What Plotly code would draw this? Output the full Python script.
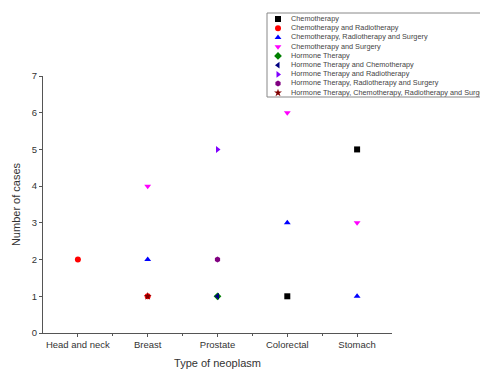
import plotly.graph_objects as go

categories = ["Head and neck", "Breast", "Prostate", "Colorectal", "Stomach"]

series_names = [
    "Chemotherapy",
    "Chemotherapy and Radiotherapy",
    "Chemotherapy, Radiotherapy and Surgery",
    "Chemotherapy and Surgery",
    "Hormone Therapy",
    "Hormone Therapy and Chemotherapy",
    "Hormone Therapy and Radiotherapy",
    "Hormone Therapy, Radiotherapy and Surgery",
    "Hormone Therapy, Chemotherapy, Radiotherapy and Surgery",
]

# (category, number of cases) for each series
chemo_x = ["Colorectal", "Stomach"]
chemo_y = [1, 5]
chemo_radio_x = ["Head and neck", "Breast"]
chemo_radio_y = [2, 1]
chemo_radio_surg_x = ["Breast", "Colorectal", "Stomach"]
chemo_radio_surg_y = [2, 3, 1]
chemo_surg_x = ["Breast", "Colorectal", "Stomach"]
chemo_surg_y = [4, 6, 3]
hormone_x = ["Prostate"]
hormone_y = [1]
hormone_chemo_x = ["Prostate"]
hormone_chemo_y = [1]
hormone_radio_x = ["Prostate"]
hormone_radio_y = [5]
hormone_radio_surg_x = ["Prostate"]
hormone_radio_surg_y = [2]
hormone_all_x = ["Breast"]
hormone_all_y = [1]

y_ticks = [0, 1, 2, 3, 4, 5, 6, 7]

series_x = [chemo_x, chemo_radio_x, chemo_radio_surg_x, chemo_surg_x, hormone_x,
            hormone_chemo_x, hormone_radio_x, hormone_radio_surg_x, hormone_all_x]
series_y = [chemo_y, chemo_radio_y, chemo_radio_surg_y, chemo_surg_y, hormone_y,
            hormone_chemo_y, hormone_radio_y, hormone_radio_surg_y, hormone_all_y]

symbols = ["square", "circle", "triangle-up", "triangle-down", "diamond",
           "triangle-left", "triangle-right", "hexagon", "star"]
colors = ["#000000", "#FF0000", "#0000FF", "#FF00FF", "#008000",
          "#000080", "#8000FF", "#800080", "#800000"]

fig = go.Figure()

for i, name in enumerate(series_names):
    xs = [categories.index(c) for c in series_x[i]]
    fig.add_trace(go.Scatter(
        x=xs, y=series_y[i], mode="markers", name=name, showlegend=False,
        marker=dict(symbol=symbols[i], color=colors[i], size=6, line=dict(width=0)),
        xaxis="x", yaxis="y", cliponaxis=False,
    ))

# legend drawn on its own small axes
for i, name in enumerate(series_names):
    fig.add_trace(go.Scatter(
        x=[11], y=[i], mode="markers",
        marker=dict(symbol=symbols[i], color=colors[i], size=6, line=dict(width=0)),
        showlegend=False, xaxis="x2", yaxis="y2", cliponaxis=False, hoverinfo="skip",
    ))
    fig.add_trace(go.Scatter(
        x=[24], y=[i], mode="text", text=[name], textposition="middle right",
        textfont=dict(size=7.3, color="#444444", family="Liberation Sans, Arial"),
        showlegend=False, xaxis="x2", yaxis="y2", cliponaxis=False, hoverinfo="skip",
    ))

# page body has an 8px margin, so positions are offset by 8px
OFF = 8
W, H = 488 - OFF, 369 - OFF
L, B, T = 43 - OFF, 36, 2
pw, ph = W - L, H - B - T
main_top = 76 - OFF
main_right = 392 - OFF
leg_left, leg_top, leg_bot = 267 - OFF, 13 - OFF, 97 - OFF

fig.update_layout(
    width=W, height=H,
    margin=dict(l=L, r=0, t=T, b=B),
    paper_bgcolor="white", plot_bgcolor="white",
    font=dict(family="Liberation Sans, Arial", color="#333333", size=9.5),
    showlegend=False,
    xaxis=dict(
        domain=[0, (main_right - L) / pw],
        range=[-0.5, 4.5], automargin=False,
        tickmode="array", tickvals=list(range(len(categories))), ticktext=categories,
        showgrid=False, zeroline=False, showline=True, linecolor="#555555", linewidth=1,
        ticks="outside", ticklen=3, tickcolor="#555555",
        minor=dict(tickvals=[0.5, 1.5, 2.5, 3.5], ticks="outside", ticklen=2, tickcolor="#555555"),
        tickfont=dict(size=9.5),
        title=dict(text="Type of neoplasm", font=dict(size=11), standoff=9),
    ),
    yaxis=dict(
        domain=[0, (H - B - main_top) / ph],
        range=[0, 7], automargin=False,
        tickmode="array", tickvals=y_ticks,
        showgrid=False, zeroline=False, showline=True, linecolor="#555555", linewidth=1,
        ticks="outside", ticklen=3, tickcolor="#555555",
        tickfont=dict(size=9.5),
        title=dict(text="Number of cases", font=dict(size=11), standoff=8),
    ),
    xaxis2=dict(
        domain=[(leg_left - L) / pw, 1], range=[0, W - leg_left],
        visible=False, fixedrange=True,
    ),
    yaxis2=dict(
        domain=[(H - B - leg_bot) / ph, (H - B - leg_top) / ph],
        range=[8.45, -0.65], visible=False, fixedrange=True,
    ),
    shapes=[dict(
        type="rect", xref="x2 domain", yref="y2 domain", x0=0, x1=1.05, y0=0, y1=1,
        line=dict(color="#888888", width=1), fillcolor="rgba(0,0,0,0)",
    )],
)

fig.write_html("out.html")
